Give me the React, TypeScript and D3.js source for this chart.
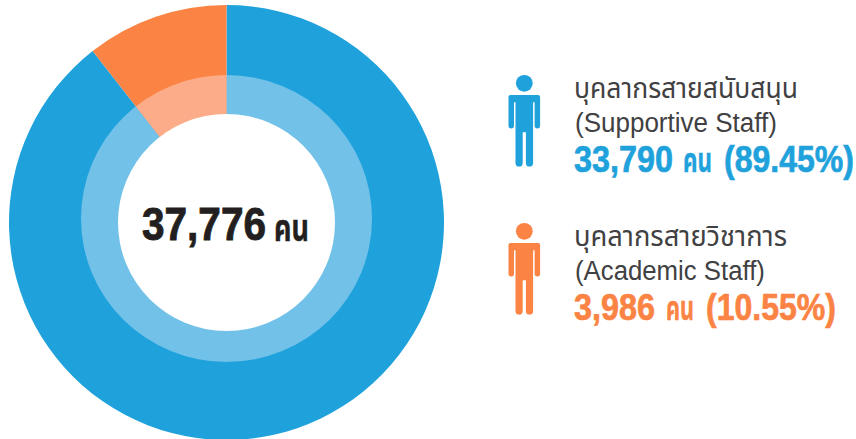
import React, { useLayoutEffect, useRef } from 'react';
import * as d3 from 'd3';

const categories = ['Supportive Staff', 'Academic Staff'];
const thaiLabels = ['บุคลากรสายสนับสนุน', 'บุคลากรสายวิชาการ'];
const englishLabels = ['(Supportive Staff)', '(Academic Staff)'];
const values = [33790, 3986];
const percents = ['89.45%', '10.55%'];
const outerColors = ['#1fa2dc', '#fb8344'];
const innerColors = ['#72c1e9', '#fcac88'];
const total = '37,776';
const unit = 'คน';

const FONT = '"Liberation Sans", "Noto Sans", "Noto Sans Thai", "DejaVu Sans", sans-serif';
const cx = 226.5, cy = 222.5;

function Fit({ x, y, w, children, ...rest }: any) {
  const ref = useRef<SVGTextElement>(null);
  useLayoutEffect(() => {
    const el = ref.current!;
    const len = el.getComputedTextLength();
    el.setAttribute('transform', `translate(${x},${y}) scale(${w / len},1)`);
  }, [x, y, w]);
  return <text ref={ref} transform={`translate(${x},${y})`} {...rest}>{children}</text>;
}

function Person({ x, y, fill }: { x: number; y: number; fill: string }) {
  return (
    <g transform={`translate(${x},${y})`} fill={fill}>
      <circle cx={0} cy={0} r={8.4} />
      <path d="M-13.8 11.7 H13.8 Q15.8 11.7 15.8 13.7 V42.5 a2.75 2.75 0 0 1 -5.5 0 V19 H8.8 V79.6 a3.6 3.6 0 0 1 -7.2 0 V49 H-1.6 V79.6 a3.6 3.6 0 0 1 -7.2 0 V19 H-10.3 V42.5 a2.75 2.75 0 0 1 -5.5 0 V13.7 Q-15.8 11.7 -13.8 11.7 Z" />
    </g>
  );
}

export default function App() {
  const pie = d3.pie<number>().sort(null).value((d) => d);
  const arcs = pie(values);
  const outer = d3.arc<d3.PieArcDatum<number>>().innerRadius(0).outerRadius(217.5);
  const inner = d3.arc<d3.PieArcDatum<number>>().innerRadius(0).outerRadius(165);
  const rows = [
    { py: 83.3, thai: 98, eng: 132, big: 172, w1: 99, ux: 683, uw: 29, px: 724, pw: 130 },
    { py: 231.3, thai: 246, eng: 280, big: 320, w1: 81, ux: 666, uw: 28, px: 706, pw: 130 },
  ];
  return (
    <svg width={856} height={439} style={{ position: 'absolute', left: 0, top: 0 }} fontFamily={FONT}>
      <defs>
        <clipPath id="ring"><ellipse cx={226.5} cy={218.5} rx={145.5} ry={143.4} /></clipPath>
      </defs>
      <rect width={856} height={439} fill="#fff" />
      <g transform={`translate(${cx},${cy})`}>
        {arcs.map((a, i) => <path key={categories[i]} d={outer(a)!} fill={outerColors[i]} />)}
      </g>
      <g clipPath="url(#ring)">
        <g transform={`translate(${cx},${cy})`}>
          {arcs.map((a, i) => <path key={categories[i]} d={inner(a)!} fill={innerColors[i]} />)}
        </g>
      </g>
      <circle cx={cx} cy={cy} r={108.5} fill="#fff" />
      <g fill="#231f20" stroke="#231f20" fontWeight={700}>
        <Fit x={142} y={240} w={124} fontSize={45.5} strokeWidth={0.9}>{total}</Fit>
        <Fit x={274} y={241} w={35} fontSize={37} strokeWidth={0.4}>{unit}</Fit>
      </g>
      {rows.map((r, i) => (
        <g key={categories[i]}>
          <Person x={524.3} y={r.py} fill={outerColors[i]} />
          <Fit x={574} y={r.thai} w={i === 0 ? 224 : 213} fontSize={28} fill="#414042">{thaiLabels[i]}</Fit>
          <Fit x={575} y={r.eng} w={i === 0 ? 202 : 190} fontSize={27} fill="#414042">{englishLabels[i]}</Fit>
          <g fontWeight={700} fill={outerColors[i]} stroke={outerColors[i]}>
            <Fit x={574} y={r.big} w={r.w1} fontSize={37} strokeWidth={0.7}>{d3.format(',')(values[i])}</Fit>
            <Fit x={r.ux} y={r.big} w={r.uw} fontSize={33} strokeWidth={0.4}>{unit}</Fit>
            <Fit x={r.px} y={r.big} w={r.pw} fontSize={37} strokeWidth={0.7}>{`(${percents[i]})`}</Fit>
          </g>
        </g>
      ))}
    </svg>
  );
}
